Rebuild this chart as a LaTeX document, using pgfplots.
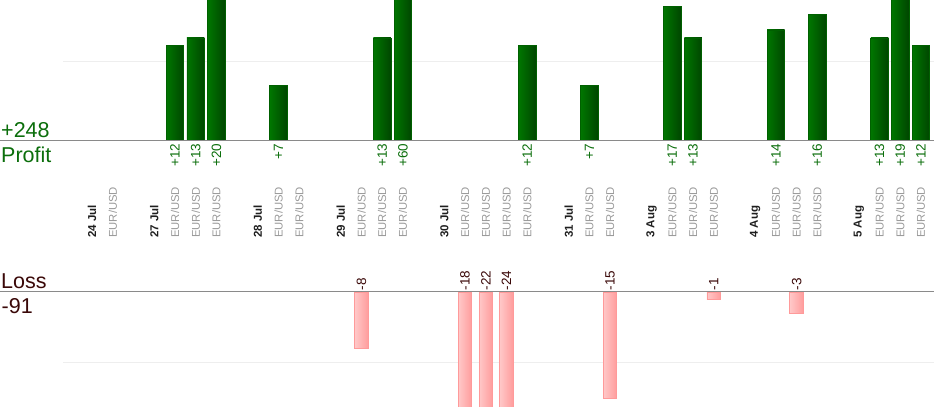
\documentclass[border=0pt]{standalone}
\usepackage{fontspec}
\setmainfont{Liberation Sans}
\usepackage{pgfplots}
\usepackage{pgfplotstable}
\pgfplotsset{compat=1.18}
\definecolor{gL}{HTML}{007600}
\definecolor{gR}{HTML}{004600}
\definecolor{gB}{HTML}{006000}
\definecolor{pL}{HTML}{FFC8C8}
\definecolor{pR}{HTML}{FF9C9C}
\definecolor{pB}{HTML}{FF9A9A}
\definecolor{profittxt}{HTML}{0B6E0B}
\definecolor{losstxt}{HTML}{3A0808}
\definecolor{gridc}{HTML}{EEEEEE}
\definecolor{basec}{HTML}{8A8A8A}
\definecolor{pairc}{HTML}{999999}

\pgfplotstableread{
x y lab
4 12 +12
5 13 +13
6 20 +20
9 7 +7
14 13 +13
15 60 +60
21 12 +12
24 7 +7
28 17 +17
29 13 +13
33 14 +14
35 16 +16
38 13 +13
39 19 +19
40 12 +12
}\profit

\pgfplotstableread{
x y lab
13 -8 -8
18 -18 -18
19 -22 -22
20 -24 -24
25 -15 -15
30 -1 -1
34 -3 -3
}\loss

\newcommand{\D}[1]{{\fontsize{11.5}{12}\selectfont\bfseries\color{black!88}#1}}
\newcommand{\E}{{\fontsize{11.3}{12}\selectfont\color{pairc}EUR/USD}}

\pgfplotsset{base/.style={scale only axis, width=934pt, xmin=-4.445, xmax=40.63,
  axis line style={draw=none}, xtick=\empty, ytick=\empty, major tick length=0pt},
  gbar/.style={ybar, bar width=17.5pt, draw=gB, line width=0.8pt, left color=gL, right color=gR},
  pbar/.style={ybar, bar width=13.5pt, draw=pB, line width=0.8pt, left color=pL, right color=pR}}

\begin{document}
\begin{tikzpicture}
\path[use as bounding box] (0,0) rectangle (934pt,420pt);

% Profit panel
\begin{axis}[base, at={(0pt,279pt)}, anchor=south west, height=141pt, ymin=0, ymax=17.78]
\draw[gridc, line width=1pt] (axis cs:-1.39,10) -- (axis cs:40.63,10);
\addplot[gbar] coordinates {(4,12)};
\addplot[gbar] coordinates {(5,13)};
\addplot[gbar] coordinates {(6,20)};
\addplot[gbar] coordinates {(9,7)};
\addplot[gbar] coordinates {(14,13)};
\addplot[gbar] coordinates {(15,60)};
\addplot[gbar] coordinates {(21,12)};
\addplot[gbar] coordinates {(24,7)};
\addplot[gbar] coordinates {(28,17)};
\addplot[gbar] coordinates {(29,13)};
\addplot[gbar] coordinates {(33,14)};
\addplot[gbar] coordinates {(35,16)};
\addplot[gbar] coordinates {(38,13)};
\addplot[gbar] coordinates {(39,19)};
\addplot[gbar] coordinates {(40,12)};
\draw[basec, line width=1pt] (axis cs:-4.445,0) -- (axis cs:40.63,0);
\addplot[only marks, mark=*, mark size=0pt, mark options={draw=none, fill=none},
  nodes near coords, point meta=explicit symbolic,
  nodes near coords style={rotate=90, anchor=east, inner sep=2.5pt,
    font=\fontsize{13.5}{15}\selectfont, text=profittxt}]
  table[x=x, y expr=0, meta=lab] {\profit};
\end{axis}

% Category labels
\begin{axis}[base, at={(0pt,171pt)}, anchor=south west, height=10pt, ymin=0, ymax=1,
  xtick={0,1,3,4,5,6,8,9,10,12,13,14,15,17,18,19,20,21,23,24,25,27,28,29,30,32,33,34,35,37,38,39,40},
  xticklabels={\D{24 Jul},\E,\D{27 Jul},\E,\E,\E,\D{28 Jul},\E,\E,\D{29 Jul},\E,\E,\E,
    \D{30 Jul},\E,\E,\E,\E,\D{31 Jul},\E,\E,\D{3 Aug},\E,\E,\E,\D{4 Aug},\E,\E,\E,\D{5 Aug},\E,\E,\E},
  xticklabel pos=upper,
  xticklabel style={rotate=90, anchor=west, inner sep=1pt}]
\end{axis}

% Loss panel
\begin{axis}[base, at={(0pt,128pt)}, anchor=north west, height=114.7pt, ymin=-16.2, ymax=0]
\draw[gridc, line width=1pt] (axis cs:-1.39,-10) -- (axis cs:40.63,-10);
\addplot[pbar] coordinates {(13,-8)};
\addplot[pbar] coordinates {(18,-18)};
\addplot[pbar] coordinates {(19,-22)};
\addplot[pbar] coordinates {(20,-24)};
\addplot[pbar] coordinates {(25,-15)};
\addplot[pbar] coordinates {(30,-1)};
\addplot[pbar] coordinates {(34,-3)};
\draw[basec, line width=1pt] (axis cs:-4.445,0) -- (axis cs:40.63,0);
\addplot[only marks, mark=*, mark size=0pt, mark options={draw=none, fill=none},
  nodes near coords, point meta=explicit symbolic,
  nodes near coords style={rotate=90, anchor=west, inner sep=1.5pt,
    font=\fontsize{13.5}{15}\selectfont, text=losstxt}]
  table[x=x, y expr=0, meta=lab] {\loss};
\end{axis}

\node[anchor=base west, inner sep=0, text=profittxt, font=\fontsize{21.5}{24}\selectfont] at (1pt,282.7pt) {+248};
\node[anchor=base west, inner sep=0, text=profittxt, font=\fontsize{21.5}{24}\selectfont] at (1pt,257pt) {Profit};
\node[anchor=base west, inner sep=0, text=losstxt, font=\fontsize{21.5}{24}\selectfont] at (1pt,131.7pt) {Loss};
\node[anchor=base west, inner sep=0, text=losstxt, font=\fontsize{21.5}{24}\selectfont] at (1.5pt,106pt) {-91};
\end{tikzpicture}
\end{document}
